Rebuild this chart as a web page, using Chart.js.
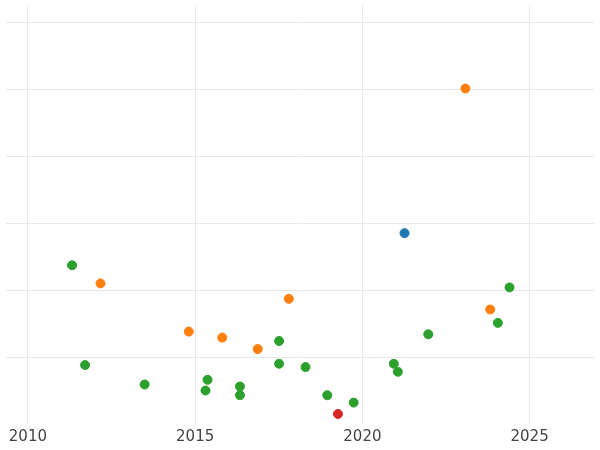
<!DOCTYPE html>
<html>
<head>
<script src="https://cdn.jsdelivr.net/npm/chart.js@4"></script>
<style>html,body{margin:0;padding:0;background:#fff}#wrap{width:600px;height:450px}</style>
</head>
<body>
<div id="wrap"><canvas id="c"></canvas></div>
<script>
let greenX = [2011.32, 2011.71, 2013.49, 2015.37, 2015.31, 2016.34, 2016.34, 2017.51, 2017.51, 2018.30, 2018.95, 2019.74, 2020.94, 2021.06, 2021.97, 2024.05, 2024.40];
let greenY = [2.37, 0.88, 0.59, 0.66, 0.50, 0.56, 0.43, 1.24, 0.90, 0.85, 0.43, 0.32, 0.90, 0.78, 1.34, 1.51, 2.04];
let orangeX = [2012.17, 2014.81, 2015.81, 2016.87, 2017.80, 2023.08, 2023.82];
let orangeY = [2.10, 1.38, 1.29, 1.12, 1.87, 5.01, 1.71];
let blueX = [2021.26];
let blueY = [2.85];
let redX = [2019.27];
let redY = [0.15];
let xTicks = [2010, 2015, 2020, 2025];

function pts(xs, ys) {
    return xs.map((x, i) => ({ x: x, y: ys[i] }));
}
function ds(xs, ys, color) {
    return { data: pts(xs, ys), backgroundColor: color, borderColor: color, pointRadius: 4.5, pointHoverRadius: 4.5 };
}

new Chart(document.getElementById('c'), {
    type: 'scatter',
    data: {
        datasets: [
            ds(greenX, greenY, '#2ca02c'),
            ds(orangeX, orangeY, '#ff7f0e'),
            ds(blueX, blueY, '#1f77b4'),
            ds(redX, redY, '#d62728')
        ]
    },
    options: {
        responsive: true,
        maintainAspectRatio: false,
        animation: false,
        layout: { padding: { left: -6, right: -6, top: -6, bottom: 0 } },
        plugins: { legend: { display: false }, tooltip: { enabled: false } },
        scales: {
            x: {
                type: 'linear',
                min: 2009.33,
                max: 2026.94,
                afterBuildTicks: axis => { axis.ticks = xTicks.map(v => ({ value: v })); },
                ticks: { callback: v => String(v), color: '#444', font: { family: 'DejaVu Sans', size: 15 }, padding: 4 },
                grid: { color: '#e8e8e8', drawTicks: false },
                border: { display: false }
            },
            y: {
                min: 0,
                max: 6.25,
                ticks: { display: false, stepSize: 1 },
                grid: { color: ctx => ctx.tick && (ctx.tick.value === 0 || ctx.tick.value > 6) ? 'rgba(0,0,0,0)' : '#e8e8e8', drawTicks: false },
                border: { display: false }
            }
        }
    }
});
</script>
</body>
</html>
